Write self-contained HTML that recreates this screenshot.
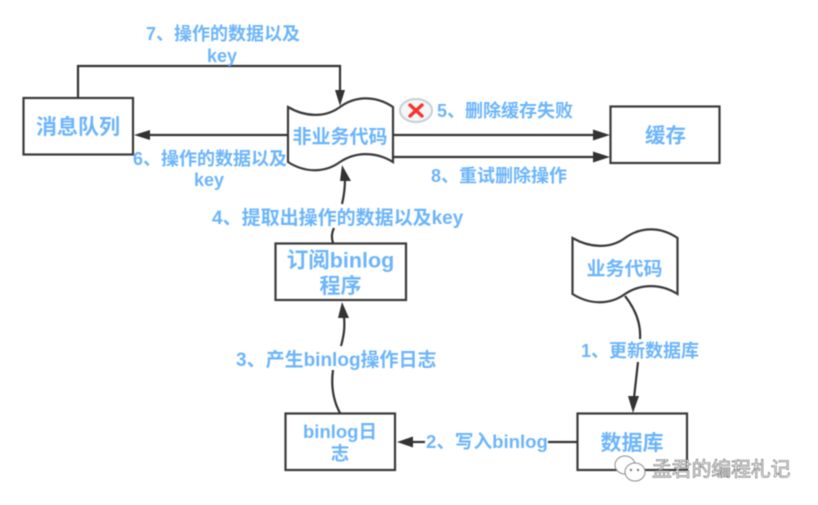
<!DOCTYPE html>
<html><head><meta charset="utf-8"><style>
html,body{margin:0;padding:0;background:#fff;width:818px;height:505px;overflow:hidden}
svg{display:block;filter:blur(.45px)}
text{font-family:"Liberation Sans","Noto Sans CJK SC",sans-serif;font-weight:700;fill:#6cb5fb}
.l{font-size:18px}.m{font-size:19px}
.s{fill:none;stroke:#333;stroke-width:2.2}
.b{fill:#fff;stroke:#3a3a3a;stroke-width:2.2}
.h{fill:#333;stroke:none}
</style></head><body>
<svg width="818" height="505" viewBox="0 0 818 505" xmlns="http://www.w3.org/2000/svg">
<rect class="b" x="23.500" y="98" width="109.500" height="56.500"/>
<rect class="b" x="610.500" y="106.500" width="109" height="56.500"/>
<rect class="b" x="275.500" y="243.500" width="130.500" height="56.500"/>
<rect class="b" x="285.500" y="413.500" width="109.500" height="56.500"/>
<rect class="b" x="577.500" y="413.500" width="109.500" height="56.500"/>
<path class="b" d="M288,107 C305,117 325,118 340,107 C355,96 375,95 393,107 L393,162 C375,151 355,152 340,162 C325,173 305,173 288,162 Z"/>
<path class="b" d="M572.500,238 C590,248 610,249 625,238 C640,227 660,226 677.500,238 L677.500,294 C660,283 640,284 625,294 C610,305 590,305 572.500,294 Z"/>

<path class="s" d="M78,98 V66 H340 V91"/><path class="h" d="M340,106 L335,90 H345 Z"/>
<path class="s" d="M288,135 H149"/><path class="h" d="M134,135 L150,130 V140 Z"/>
<path class="s" d="M393,135 H594"/><path class="h" d="M610,135 L593,129.500 V140.500 Z"/>
<path class="s" d="M393,157 H594"/><path class="h" d="M610,157 L593,151.500 V162.500 Z"/>
<path class="s" d="M333,243 C331,237 332,232 334,228"/>
<path class="s" d="M342,204 C344,196 345,188 345,178"/><path class="h" d="M342,165 L340,181 H351 Z"/>
<path class="s" d="M341,346 C344,335 345,328 344,316"/><path class="h" d="M342,302 L338,318 H349 Z"/>
<path class="s" d="M333,370 C331,385 333,400 340,413"/>
<path class="s" d="M577,442 H548"/><path class="s" d="M425,442 H411"/><path class="h" d="M397,442 L413,436.500 V447.500 Z"/>
<path class="s" d="M625,296 C636,310 641,325 640,339"/>
<path class="s" d="M638,362 L634,398"/><path class="h" d="M633,413 L628,396 H639 Z"/>

<ellipse cx="416" cy="110.500" rx="16" ry="11.500" fill="#f4f6f7" stroke="#c4d0d6" stroke-width="2"/>
<path d="M410,105 L422,116 M422,105 L410,116" stroke="#f4352e" stroke-width="3.400" stroke-linecap="round" fill="none"/>

<text x="78" y="134" text-anchor="middle" style="font-size:21px">消息队列</text>
<text x="340" y="143" text-anchor="middle" style="font-size:19px">非业务代码</text>
<text x="665.500" y="142.500" text-anchor="middle" style="font-size:20.500px">缓存</text>
<text x="340.500" y="267.500" text-anchor="middle" style="font-size:21.500px">订阅binlog</text>
<text x="340.500" y="293" text-anchor="middle" style="font-size:21px">程序</text>
<text x="624.500" y="275" text-anchor="middle" style="font-size:19px">业务代码</text>
<text x="632" y="450" text-anchor="middle" style="font-size:21px">数据库</text>
<text x="340" y="438" text-anchor="middle" style="font-size:18.500px">binlog日</text>
<text x="340" y="460" text-anchor="middle" style="font-size:18.500px">志</text>

<text class="l" x="146" y="40">7、操作的数据以及</text>
<text class="l" x="222" y="62" text-anchor="middle">key</text>
<text class="l" x="133" y="165">6、操作的数据以及</text>
<text class="l" x="209" y="186" text-anchor="middle">key</text>
<text class="l" x="437" y="117">5、删除缓存失败</text>
<text class="l" x="431" y="182">8、重试删除操作</text>
<text class="m" x="212" y="224">4、提取出操作的数据以及key</text>
<text class="m" x="236" y="366">3、产生binlog操作日志</text>
<text class="l" x="581" y="357">1、更新数据库</text>
<text x="426" y="448" style="font-size:18.600px">2、写入binlog</text>

<g fill="#fff" stroke="#8a8a8a" stroke-width="1">
<ellipse cx="625" cy="465" rx="10" ry="9"/>
<ellipse cx="635" cy="472" rx="10" ry="9"/>
</g>
<circle cx="631" cy="470" r="1.200" fill="#777"/><circle cx="638" cy="470" r="1.200" fill="#777"/>
<text x="652" y="476" style="font-size:19.800px;font-weight:400;fill:#fff;stroke:#666;stroke-width:.6">孟君的编程札记</text>
</svg>
</body></html>
